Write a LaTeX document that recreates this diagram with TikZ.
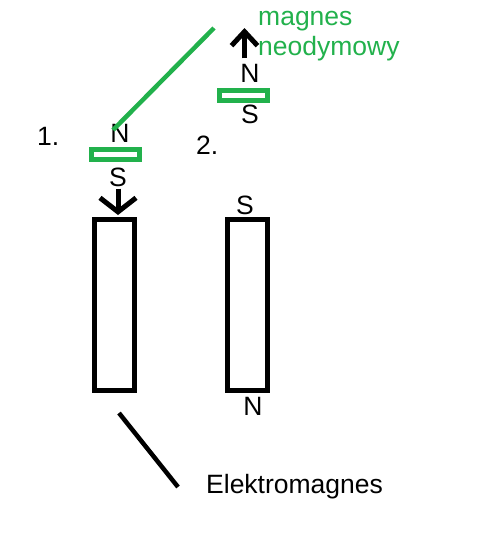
\documentclass[tikz,border=0pt]{standalone}
\usepackage{fontspec}
\setmainfont{Liberation Sans}
\usetikzlibrary{positioning,arrows.meta}
\definecolor{paintgreen}{RGB}{34,177,76}
\tikzset{gmag/.style={rectangle,draw=paintgreen,line width=5pt,inner sep=0pt,minimum width=48pt,minimum height=10pt},
	 emag/.style={rectangle,draw,line width=5pt,inner sep=0pt,minimum width=40pt,minimum height=171pt},
	 pole/.style={inner sep=0pt},
	 gtext/.style={inner sep=0pt,text=paintgreen,anchor=base west},
	 parrow/.style={line width=5pt},
	 node distance = 4pt
	 }

\begin{document}
\begin{tikzpicture}[x=1pt,y=-1pt,font=\fontsize{26.5}{30}\selectfont] % magnes nad elektromagnesem
	\useasboundingbox (0,0) rectangle (499,546);
	\node[emag] (e1) at (114.5,305) {};
	\node[emag] (e2) at (247,305) {};
	\node[gmag] (m1) at (115.5,154) {};
	\node[gmag] (m2) at (243.5,95) {};
	\node[pole] (n1) [above=4pt of m1, xshift=4.5pt] {N};
	\node[pole] (s1) [below=6pt of m1, xshift=2.5pt] {S};
	\node[pole] (n2) [above=4.5pt of m2, xshift=6.5pt] {N};
	\node[pole] (s2) [below=2.5pt of m2, xshift=6.5pt] {S};
	\node[pole] (s3) [above=2pt of e2, xshift=-2pt] {S};
	\node[pole] (n3) [below=4pt of e2, xshift=6pt] {N};
	\node[pole,anchor=base west] (k1) at (37,145) {1.};
	\node[pole,anchor=base west] (k2) at (196,154) {2.};
	\node[gtext] (neo1) at (258,25) {magnes};
	\node[gtext] (neo2) at (258,55) {neodymowy};
	\node[pole,anchor=base west] (elek) at (206,493) {Elektromagnes};
	\coordinate (up) at (244.5,28);
	\coordinate (g1) at (113,130);
	\coordinate (g2) at (214,28);
	\coordinate (b1) at (119,413);
	\coordinate (b2) at (178,487);
	\draw[parrow,-{Straight Barb[length=14pt,width=36pt]},shorten <=2pt,shorten >=2pt] (s1.south) -- (s1.south |- e1.north);
	\draw[parrow,-{Straight Barb[length=14pt,width=26pt]},shorten <=6pt] (n2.north -| up) -- (up);
	\draw[paintgreen,line width=4.5pt] (g1) -- (g2);
	\draw[line width=4.5pt] (b1) -- (b2);
\end{tikzpicture}
\end{document}
